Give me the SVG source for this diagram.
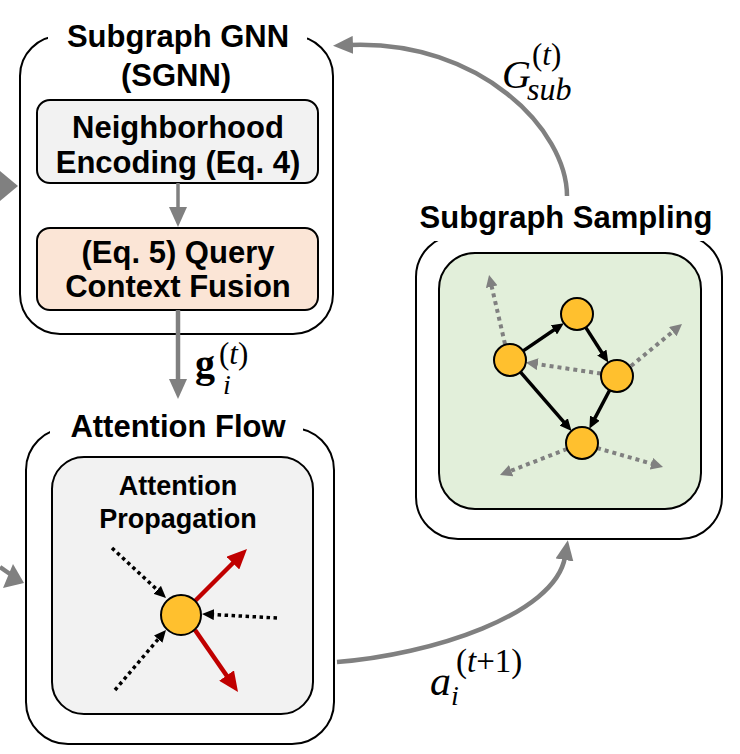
<svg xmlns="http://www.w3.org/2000/svg" width="740" height="754" viewBox="0 0 740 754">
<style>
.box{fill:#fff;stroke:#000;stroke-width:2}
.in{stroke:#000;stroke-width:2}
.gap{fill:#fff}
.t{font-family:"Liberation Sans",Arial,sans-serif;font-weight:bold;font-size:31px;fill:#000;text-anchor:middle}
.t2{font-family:"Liberation Sans",Arial,sans-serif;font-weight:bold;font-size:27px;fill:#000;text-anchor:middle}
.m{font-family:"Liberation Serif","Times New Roman",serif;font-style:italic;fill:#000}
.gc{fill:none;stroke:#808080;stroke-width:4.5}
.gd{fill:none;stroke:#808080;stroke-width:4;stroke-dasharray:4 4}
.kd{fill:none;stroke:#000;stroke-width:3.5;stroke-dasharray:3.5 3.5}
.ks{fill:none;stroke:#000;stroke-width:3.5}
.rs{fill:none;stroke:#c00000;stroke-width:4.5}
.node{fill:#ffc02e;stroke:#000;stroke-width:2}
</style>
<defs>
<marker id="mg" markerUnits="userSpaceOnUse" markerWidth="20" markerHeight="18" refX="3" refY="9" orient="auto"><path d="M0,0 L20,9 L0,18 z" fill="#808080"/></marker>
<marker id="mgs" markerUnits="userSpaceOnUse" markerWidth="12" markerHeight="12" refX="2" refY="6" orient="auto"><path d="M0,0 L12,6 L0,12 z" fill="#808080"/></marker>
<marker id="mk" markerUnits="userSpaceOnUse" markerWidth="12" markerHeight="11" refX="2" refY="5.5" orient="auto"><path d="M0,0 L12,5.5 L0,11 z" fill="#000"/></marker>
<marker id="mr" markerUnits="userSpaceOnUse" markerWidth="20" markerHeight="18" refX="3" refY="9" orient="auto"><path d="M0,0 L20,9 L0,18 z" fill="#c00000"/></marker>
</defs>
<rect width="740" height="754" fill="#fff"/>

<g id="sgnn">
<rect class="box" x="20" y="36" width="313" height="298" rx="40"/>
<rect class="gap" x="48" y="28" width="259" height="14"/>
<text class="t" x="178" y="47">Subgraph GNN</text>
<text class="t" x="176" y="86">(SGNN)</text>
</g>
<g id="neighborhood">
<rect class="in" fill="#f2f2f2" x="37" y="100" width="281" height="83" rx="13"/>
<text class="t" x="178" y="138">Neighborhood</text>
<text class="t" x="178" y="173">Encoding (Eq. 4)</text>
</g>
<g id="fusion">
<rect class="in" fill="#fbe5d6" x="37" y="228" width="281" height="82" rx="13"/>
<text class="t" x="178" y="263">(Eq. 5) Query</text>
<text class="t" x="178" y="297">Context Fusion</text>
</g>

<g id="attention-flow">
<rect class="box" x="26" y="428" width="308" height="316" rx="42"/>
<rect class="gap" x="50" y="420" width="253" height="14"/>
<text class="t" x="178" y="437">Attention Flow</text>
</g>
<g id="attention-propagation">
<rect class="in" fill="#f2f2f2" x="52" y="457" width="261" height="257" rx="32"/>
<text class="t2" x="178" y="495">Attention</text>
<text class="t2" x="178" y="528">Propagation</text>
<path class="kd" d="M112,548 L158.7,591.2" marker-end="url(#mk)"/>
<path class="kd" d="M277,618 L212,614.5" marker-end="url(#mk)"/>
<path class="kd" d="M115,690 L159.5,637.6" marker-end="url(#mk)"/>
<path class="rs" d="M195,601 L235,561" marker-end="url(#mr)"/>
<path class="rs" d="M195,630 L228.3,678" marker-end="url(#mr)"/>
<circle class="node" cx="181" cy="615" r="20"/>
</g>

<g id="subgraph-sampling">
<rect class="box" x="416" y="235" width="306" height="304" rx="42"/>
<rect class="gap" x="427" y="229" width="283" height="12"/>
<text class="t" x="566" y="228">Subgraph Sampling</text>
</g>
<g id="sampled-graph">
<rect class="in" fill="#e2efda" x="439" y="253" width="262" height="256" rx="36"/>
<path class="gd" d="M601,373.6 L535.7,363.9" marker-end="url(#mgs)"/>
<path class="gd" d="M505,344 L491.3,284.8" marker-end="url(#mgs)"/>
<path class="gd" d="M631,366 L674.3,330.4" marker-end="url(#mgs)"/>
<path class="gd" d="M567,449 L509.3,471.4" marker-end="url(#mgs)"/>
<path class="gd" d="M597,448 L653.4,464.2" marker-end="url(#mgs)"/>
<path class="ks" d="M523.2,350.9 L555.6,328.8" marker-end="url(#mk)"/>
<path class="ks" d="M585.7,327.4 L602.9,354.2" marker-end="url(#mk)"/>
<path class="ks" d="M520.5,372.1 L565,423.4" marker-end="url(#mk)"/>
<path class="ks" d="M609.6,390.2 L594,419.9" marker-end="url(#mk)"/>
<circle class="node" cx="577" cy="314" r="16"/>
<circle class="node" cx="510" cy="360" r="16"/>
<circle class="node" cx="617" cy="376" r="16"/>
<circle class="node" cx="582" cy="443" r="16"/>
</g>

<g id="connectors">
<path class="gc" style="stroke-width:3.5" d="M178,183 L178,210" marker-end="url(#mg)"/>
<path class="gc" d="M178,310 L178,382" marker-end="url(#mg)"/>
<path class="gc" d="M567,196 C567,130 480,40 350,45" marker-end="url(#mg)"/>
<path class="gc" d="M337,662 C430,655 555,615 565,557" marker-end="url(#mg)"/>
<polygon points="18,186 0,171 0,201" fill="#808080"/>
<polygon points="24,583 13,564 3,588" fill="#808080"/>
<path class="gc" d="M0,567 L10,574"/>
</g>

<g id="labels">
<text class="m" x="502" y="88" font-size="40">G</text>
<text class="m" x="527" y="100" font-size="32">sub</text>
<text class="m" x="532" y="65" font-size="31"><tspan font-style="normal">(</tspan>t<tspan font-style="normal">)</tspan></text>
<text x="195" y="377" font-family="'Liberation Serif','Times New Roman',serif" font-weight="bold" font-size="40">g</text>
<text class="m" x="223" y="394" font-size="28">i</text>
<text class="m" x="219" y="364" font-size="31"><tspan font-style="normal">(</tspan>t<tspan font-style="normal">)</tspan></text>
<text class="m" x="430" y="695" font-size="42">a</text>
<text class="m" x="451" y="705" font-size="28">i</text>
<text class="m" x="456" y="672" font-size="33"><tspan font-style="normal">(</tspan>t<tspan font-style="normal">+1)</tspan></text>
</g>
</svg>
